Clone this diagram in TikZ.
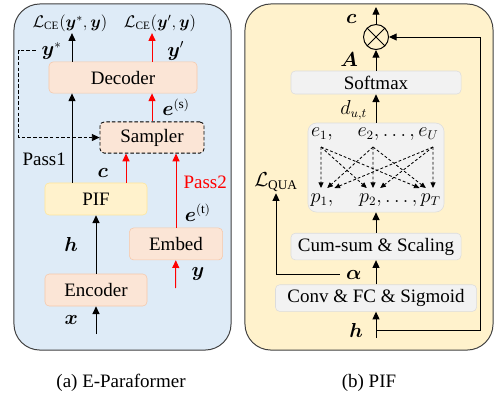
\documentclass[tikz,border=0pt]{standalone}
\usepackage{amsmath,amssymb,bm}
\usepackage{fontspec}
\setmainfont{Liberation Serif}
\usepackage{xcolor}
\usepackage{tikz}
\usetikzlibrary{arrows.meta, positioning, calc}

\definecolor{panelblue}{RGB}{222,235,247}
\definecolor{panelyellow}{RGB}{255,242,204}
\definecolor{peach}{RGB}{251,229,214}
\definecolor{peachline}{RGB}{246,200,170}
\definecolor{pifyellow}{RGB}{255,242,204}
\definecolor{pifline}{RGB}{255,230,153}
\definecolor{boxgray}{RGB}{242,242,242}
\definecolor{boxgrayline}{RGB}{220,220,220}

\begin{document}
\begin{tikzpicture}[x=0.025cm, y=-0.025cm, font=\rmfamily\fontsize{13.5}{16}\selectfont,
    >={Triangle[length=5.5pt, width=5pt]},
    panel/.style={rectangle, draw=black!75, rounded corners=0.65cm, line width=0.7pt},
    block/.style={rectangle, draw=peachline, fill=peach, rounded corners=3pt, minimum height=0.78cm},
    graybox/.style={rectangle, draw=boxgrayline, fill=boxgray, rounded corners=3pt},
    lbl/.style={inner sep=1pt},
    loss/.style={inner sep=1pt, font=\rmfamily\fontsize{12}{14}\selectfont},
    flow/.style={->, line width=0.7pt},
    redflow/.style={->, line width=0.7pt, red},
    alignflow/.style={-{Triangle[length=4pt, width=3.5pt]}, dash pattern=on 2pt off 1.5pt, line width=0.6pt}]
    \useasboundingbox (0,0) rectangle (497,397);

    % Panels
    \node (panelA) [panel, fill=panelblue, minimum width=5.425cm, minimum height=8.65cm] at (122.5,177) {};
    \node (panelB) [panel, fill=panelyellow, minimum width=6.2cm, minimum height=8.65cm] at (369,177) {};

    % E-Paraformer nodes
    \node (encoder) [block, minimum width=2.55cm, minimum height=0.8cm] at (96,290) {Encoder};
    \node (pif) [block, draw=pifline, fill=pifyellow, minimum width=2.55cm, minimum height=0.8cm, above of=encoder, node distance=2.275cm] {PIF};
    \node (decoder) [block, minimum width=3.7cm] at (123,77.5) {Decoder};
    \node (sampler) [block, draw=black, dash pattern=on 2.5pt off 1.5pt, line width=0.6pt, minimum width=2.6cm, below of=decoder, node distance=1.5cm, xshift=0.725cm] {Sampler};
    \node (embed) [block, minimum width=2.33cm, minimum height=0.8cm, below of=sampler, node distance=2.66cm, xshift=0.6cm] {Embed};
    \node (lceA) [loss] at (70,23) {$\mathcal{L}_{\text{CE}}(\bm{y}^*,\bm{y})$};
    \node (lceB) [loss] at (160,23) {$\mathcal{L}_{\text{CE}}(\bm{y}',\bm{y})$};
    \coordinate (xin) at (96,334);
    \coordinate (yin) at (175.5,288);
    \coordinate (pass1) at ([xshift=-0.6cm]pif.north);
    \coordinate (pass2c) at ([xshift=0.75cm]pif.north);

    % Pass1
    \draw[flow] (xin) -- node[lbl, left=11.5pt] {$\bm{x}$} (encoder);
    \draw[flow] (encoder) -- node[lbl, left=11.5pt] {$\bm{h}$} (pif);
    \draw[flow] (pass1) -- node[lbl, left=3pt, pos=0.26] {Pass1} (pass1 |- decoder.south);
    \draw[flow] (pass1 |- decoder.north) -- node[lbl, left=6pt, pos=0.38] (ystar) {$\bm{y}^*$} (pass1 |- lceA.south);
    \draw[->, line width=0.6pt, dash pattern=on 2.5pt off 1.5pt] ([xshift=-3pt]ystar.west) -- ++(-17,0) |- (sampler.west);

    % Pass2
    \draw[redflow] (pass2c) -- node[lbl, black, left=11.5pt, pos=0.33] {$\bm{c}$} (pass2c |- sampler.south);
    \draw[redflow] (yin) -- node[lbl, black, right=10pt] {$\bm{y}$} (embed);
    \draw[redflow] (embed.north) -- node[lbl, black, right=5pt, pos=0.2] {$\bm{e}^{(\mathrm{t})}$} node[lbl, right=4pt, pos=0.61] {Pass2} (embed.north |- sampler.south);
    \draw[redflow] (sampler.north) -- node[lbl, black, right=6pt] {$\bm{e}^{(\mathrm{s})}$} (sampler.north |- decoder.south);
    \draw[redflow] (sampler.north |- decoder.north) -- node[lbl, black, right=9.5pt, pos=0.38] {$\bm{y}'$} (sampler.north |- lceB.south);

    % PIF nodes
    \node (mult) [circle, draw, line width=0.7pt, minimum size=0.625cm, inner sep=0pt,
        path picture={\draw[line width=0.7pt] (path picture bounding box.south west) -- (path picture bounding box.north east)
        (path picture bounding box.north west) -- (path picture bounding box.south east);}] at (376,37) {};
    \node (softmax) [graybox, minimum width=4.25cm, minimum height=0.575cm, below of=mult, node distance=1.1375cm] {Softmax};
    \node (align) [graybox, rounded corners=6pt, minimum width=3.4cm, minimum height=2.225cm, below of=softmax, node distance=2.125cm] {};
    \node (cumsum) [graybox, minimum width=4.25cm, minimum height=0.625cm, below of=align, node distance=1.975cm] {Cum-sum \& Scaling};
    \node (conv) [graybox, minimum width=5.025cm, minimum height=0.6cm, below of=cumsum, node distance=1.2875cm] {Conv \& FC \& Sigmoid};
    \node (erow1) [lbl] at (322,134) {$e_1,$};
    \node (erow2) [lbl] at (398,134) {$e_2,\ldots,e_U$};
    \node (prow1) [lbl] at (322,200) {$p_1,$};
    \node (prow2) [lbl] at (400,200) {$p_2,\ldots,p_T$};
    \node (lqua) [lbl] at (276,182) {$\mathcal{L}_{\text{QUA}}$};
    \coordinate (cend) at (376,7);
    \coordinate (hin) at (376,338);
    \coordinate (hsplit) at (376,330);
    \foreach \n/\px in {1/321, 2/373, 3/433} {
        \coordinate (src\n) at (\px,147);
        \coordinate (dst\n) at (\px,188);
    }

    % Alignment
    \foreach \i in {1,2,3}
        \foreach \j in {1,2,3}
            \draw[alignflow] (src\i) -- ($(dst\j)!0.12!(src\i |- dst\j)$);

    % PIF flows
    \draw[flow] (hin) -- node[lbl, left=8pt, pos=0.3] {$\bm{h}$} (conv);
    \draw[flow] (conv) -- node[lbl, left=9pt, pos=0.4] (alpha) {$\bm{\alpha}$} (cumsum);
    \draw[flow] ([xshift=-3pt]alpha.west) -| (lqua.south);
    \draw[flow] (cumsum) -- (align);
    \draw[flow] (align) -- node[lbl, left=5pt, pos=0.45] {$d_{u,t}$} (softmax);
    \draw[flow] (softmax) -- node[lbl, left=11.5pt, pos=0.55] {$\bm{A}$} (mult);
    \draw[flow] (mult) -- node[lbl, left=12.5pt, pos=0.31] {$\bm{c}$} (cend);
    \draw[flow] (hsplit) -- ++(104,0) |- (mult.east);

    % Captions
    \node (capA) at (121,383) {(a) E-Paraformer};
    \node (capB) at (369,383) {(b) PIF};
\end{tikzpicture}
\end{document}
